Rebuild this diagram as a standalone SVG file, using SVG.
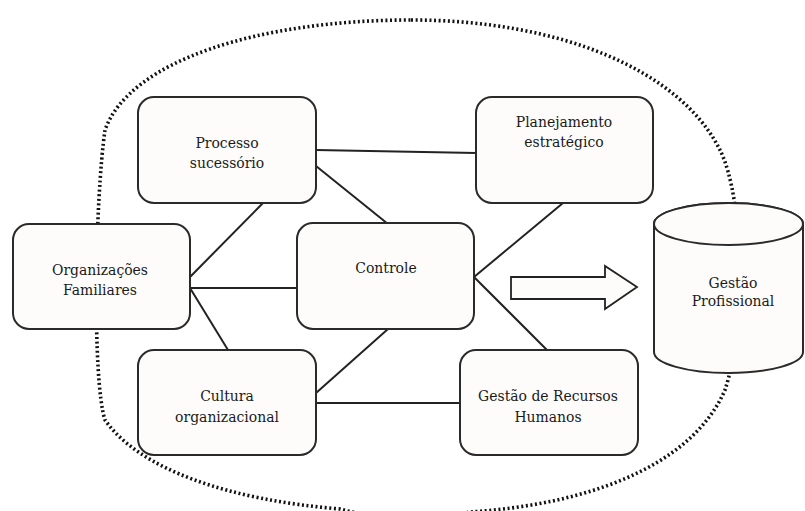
<svg xmlns="http://www.w3.org/2000/svg" width="805" height="511" viewBox="0 0 805 511">
<style>
.box{fill:#fdfcfa;stroke:#2a2a2a;stroke-width:2}
.t{font-family:"DejaVu Serif Condensed","DejaVu Serif",serif;font-size:15.5px;fill:#1a1a1a;text-anchor:middle}
.ln{stroke:#222;stroke-width:2;fill:none}
</style>
<rect width="805" height="511" fill="#ffffff"/>
<path d="M411,20 C560,20 680,70 720,150 C745,200 745,330 725,390 C690,470 580,505 470,512 C430,520 380,520 340,509 C230,500 140,470 105,420 C92,380 95,200 105,130 C130,60 260,20 411,20 Z" fill="none" stroke="#111" stroke-width="3.6" stroke-dasharray="2 2.6"/>
<g id="connectors">
<line class="ln" x1="316" y1="150" x2="476" y2="153"/>
<line class="ln" x1="316" y1="166" x2="388" y2="224"/>
<line class="ln" x1="263" y1="203" x2="190" y2="277"/>
<line class="ln" x1="190" y1="288" x2="298" y2="288"/>
<line class="ln" x1="190" y1="288" x2="228" y2="350"/>
<line class="ln" x1="388" y1="329" x2="316" y2="393"/>
<line class="ln" x1="316" y1="403" x2="460" y2="403"/>
<line class="ln" x1="474" y1="277" x2="563" y2="203"/>
<line class="ln" x1="474" y1="277" x2="547" y2="350"/>
<polygon points="511,277 605,277 605,266 637,287 605,309 605,299 511,299" fill="#fdfcfa" stroke="#222" stroke-width="1.8" stroke-linejoin="miter"/>
</g>
<g id="processo">
<rect class="box" x="138" y="97" width="178" height="106" rx="16"/>
<text class="t" x="227" y="148">Processo</text>
<text class="t" x="227" y="168">sucessório</text>
</g>
<g id="planejamento">
<rect class="box" x="476" y="97" width="177" height="106" rx="16"/>
<text class="t" x="564" y="127">Planejamento</text>
<text class="t" x="564" y="147">estratégico</text>
</g>
<g id="organizacoes">
<rect class="box" x="13" y="224" width="177" height="105" rx="16"/>
<text class="t" x="100" y="275">Organizações</text>
<text class="t" x="100" y="295">Familiares</text>
</g>
<g id="controle">
<rect class="box" x="297" y="223" width="177" height="106" rx="16"/>
<text class="t" x="386" y="273">Controle</text>
</g>
<g id="cultura">
<rect class="box" x="138" y="350" width="178" height="105" rx="16"/>
<text class="t" x="227" y="401">Cultura</text>
<text class="t" x="227" y="422">organizacional</text>
</g>
<g id="rh">
<rect class="box" x="460" y="350" width="178" height="105" rx="16"/>
<text class="t" x="548" y="401">Gestão de Recursos</text>
<text class="t" x="548" y="422">Humanos</text>
</g>
<g id="gestao-profissional">
<path d="M654,224 L654,352 A74.5,21 0 0 0 803,352 L803,224 A74.5,21 0 0 0 654,224 Z" fill="#fdfcfa" stroke="#2a2a2a" stroke-width="2"/>
<ellipse cx="728.5" cy="224" rx="74.5" ry="21" fill="#fdfcfa" stroke="#2a2a2a" stroke-width="2"/>
<text class="t" x="733" y="288">Gestão</text>
<text class="t" x="733" y="306">Profissional</text>
</g>
</svg>
